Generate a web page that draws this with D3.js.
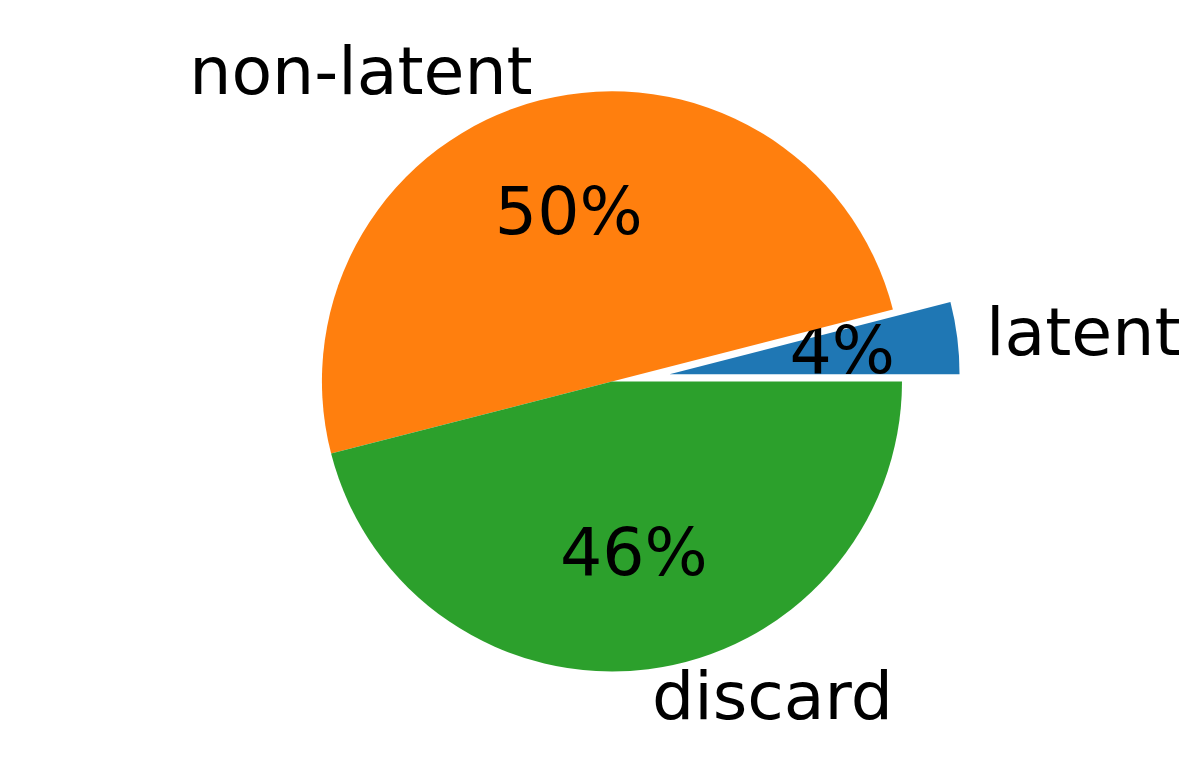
<!DOCTYPE html>
<html><head><meta charset="utf-8">
<script src="https://cdn.jsdelivr.net/npm/d3@7"></script>
<style>body{margin:0;background:#fff}svg{display:block}</style>
</head><body>
<script>
const categories = ["latent", "non-latent", "discard"];
const values = [4, 50, 46];
const colors = ["#1f77b4", "#ff7f0e", "#2ca02c"];
const explode = [0.2, 0, 0];

const W = 1196, H = 770;
const cx = 612, cy = 381.5, R = 290;
const svg = d3.select("body").append("svg").attr("width", W).attr("height", H);
const g = svg.append("g").attr("transform", `translate(${cx},${cy})`);

const pie = d3.pie().sort(null).startAngle(Math.PI/2).endAngle(Math.PI/2 - 2*Math.PI);
const arcs = pie(values);
const arc = d3.arc().innerRadius(0).outerRadius(R);
const total = d3.sum(values);
const fs = 66.5;

arcs.forEach((a, i) => {
  const mid = (a.startAngle + a.endAngle) / 2;
  const ox = explode[i] * R * Math.sin(mid), oy = -explode[i] * R * Math.cos(mid);
  const wg = g.append("g").attr("transform", `translate(${ox},${oy})`);
  wg.append("path").attr("d", arc(a)).attr("fill", colors[i]);
  const lx = 1.1 * R * Math.sin(mid), ly = -1.1 * R * Math.cos(mid);
  wg.append("text").attr("x", lx).attr("y", ly - 2)
    .attr("text-anchor", lx > 0 ? "start" : "end")
    .attr("dominant-baseline", "central")
    .attr("font-family", "DejaVu Sans").attr("font-size", fs)
    .text(categories[i]);
  const px = 0.6 * R * Math.sin(mid), py = -0.6 * R * Math.cos(mid);
  wg.append("text").attr("x", px).attr("y", py - 2)
    .attr("text-anchor", "middle")
    .attr("dominant-baseline", "central")
    .attr("font-family", "DejaVu Sans").attr("font-size", fs)
    .text(Math.round(values[i] / total * 100) + "%");
});
</script>
</body></html>
